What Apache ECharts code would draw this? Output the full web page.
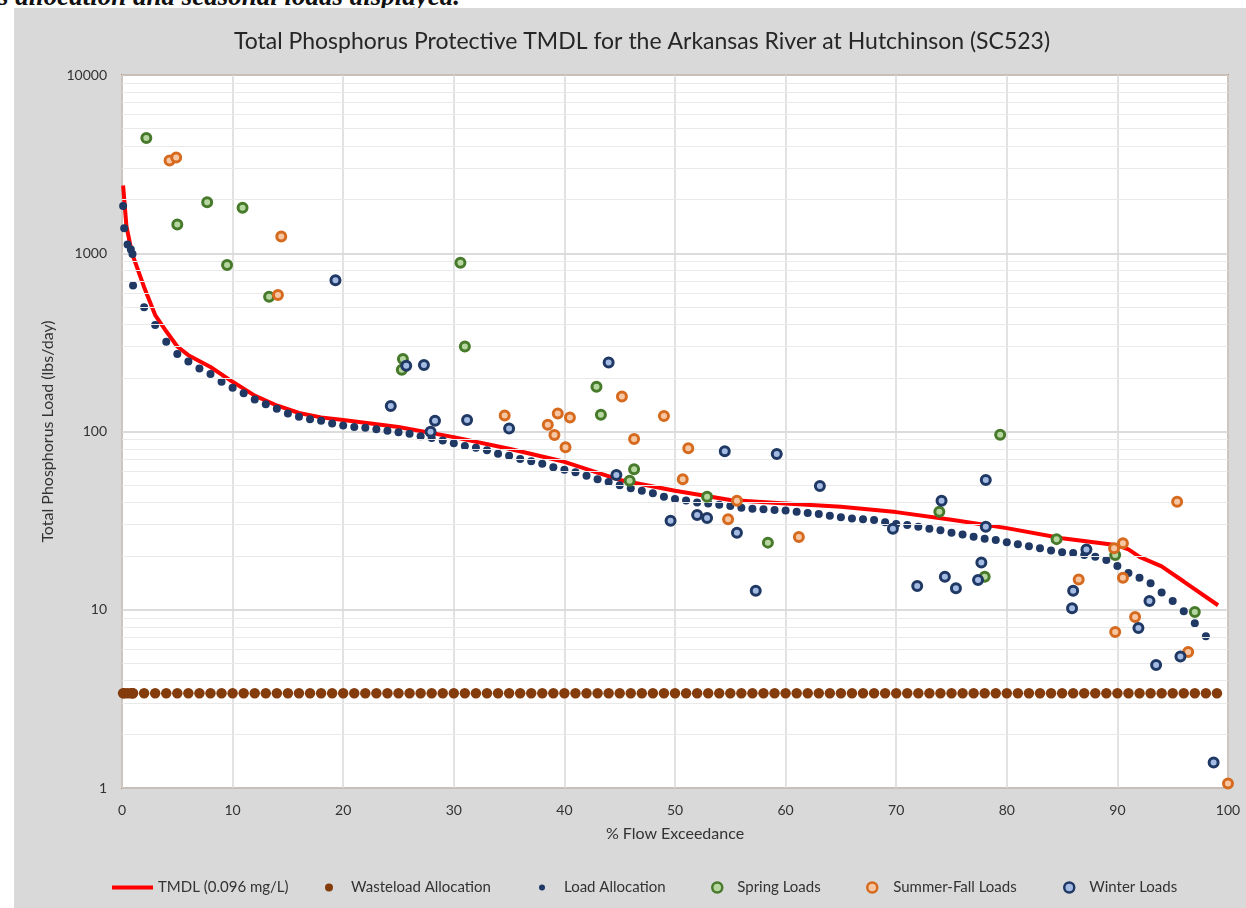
<!DOCTYPE html>
<html>
<head>
<meta charset="utf-8">
<title>Total Phosphorus Protective TMDL</title>
<script src="https://cdn.jsdelivr.net/npm/echarts@6/dist/echarts.min.js"></script>
<style>
  html, body { margin: 0; padding: 0; background: #fff; width: 1246px; height: 908px; overflow: hidden; position: relative; }
  .page-text { position: absolute; left: -2px; top: -17px; font: italic bold 27px/27px "Liberation Serif", serif; color: #111; white-space: nowrap; }
  #chart { position: absolute; left: 14px; top: 8px; width: 1232px; height: 900px; background: #d9d9d9; }
</style>
</head>
<body>
<div class="page-text">s allocation and seasonal loads displayed.</div>
<div id="chart"></div>
<script>
  // TMDL curve (% flow exceedance, lbs/day)
  const tmdlPct = [0.1, 0.4, 0.9, 2, 3, 4, 5, 6, 8, 10, 12, 14, 16, 18, 20, 25, 30, 35, 40, 45,
    50, 55, 60, 65, 70, 75, 80, 85, 90, 91, 92, 94, 96, 99.1]
  const tmdlLoad = [2400, 1420, 1000, 645, 450, 365, 300, 268, 230, 190, 159, 140, 127, 120, 116, 106, 93, 80, 67.6, 53.5,
    46.5, 41.3, 39.5, 37.8, 35.3, 32, 28.7, 25.2, 23, 21.8, 19.8, 17.5, 14.4, 10.6]

  // load allocation points
  const flowPct = [0.1, 0.2, 0.5, 0.8, 0.95, 1.0,
    2, 3, 4, 5, 6, 7, 8, 9, 10, 11, 12, 13, 14, 15, 16, 17, 18, 19, 20,
    21, 22, 23, 24, 25, 26, 27, 28, 29, 30,
    31, 32, 33, 34, 35, 36, 37, 38, 39, 40,
    41, 42, 43, 44, 45, 46, 47, 48, 49, 50,
    51, 52, 53, 54, 55, 56, 57, 58, 59, 60,
    61, 62, 63, 64, 65, 66, 67, 68, 69, 70,
    71, 72, 73, 74, 75, 76, 77, 78, 79, 80,
    81, 82, 83, 84, 85, 86, 87, 88, 89, 90,
    91, 92, 93, 94, 95, 96, 97, 98]
  const loadAlloc = [1840, 1380, 1120, 1050, 990, 660,
    498, 396, 319, 272, 247, 226, 210, 190, 176, 164, 151, 142, 134, 126, 121, 117, 115, 111, 108,
    106, 105, 103, 101, 99, 97, 94, 92, 89, 86,
    83, 81, 78.5, 75, 73, 70, 68, 66, 63, 61,
    59, 56.5, 54, 52, 50, 48, 46.5, 45, 43, 41.8,
    41, 40, 39.5, 38.8, 38.2, 37.4, 36.9, 36.6, 36.3, 36,
    35.5, 34.9, 34.4, 33.7, 33, 32.5, 32.2, 31.9, 31, 30.3,
    29.9, 29.2, 28.5, 27.9, 27, 26.4, 25.7, 25, 24.6, 23.9,
    23.3, 22.7, 22.1, 21.5, 21, 20.8, 20.3, 19.8, 19, 17.6,
    16.1, 15.1, 14.1, 12.5, 11.2, 9.8, 8.4, 7.1]

  // wasteload allocation is flat
  const wasteloadPct = flowPct.concat([99])
  const wasteloadValue = 3.4

  const springLoads = [[2.2, 4430], [7.7, 1930], [10.9, 1800], [5.0, 1450], [9.5, 860], [13.3, 570],
    [30.6, 885], [31.0, 300], [25.4, 255], [25.3, 222], [42.9, 178], [43.3, 124], [46.3, 61.4],
    [45.9, 53], [52.9, 43], [58.4, 23.8], [79.4, 96], [73.9, 35.5], [78.0, 15.3], [84.5, 24.9],
    [89.8, 20.3], [97.0, 9.7]]
  const summerFallLoads = [[4.3, 3310], [4.9, 3440], [14.4, 1240], [14.1, 583], [34.6, 123], [39.4, 126],
    [40.5, 120], [38.5, 109], [39.1, 95.5], [45.2, 157], [49.0, 122], [46.3, 90.8], [40.1, 81.5],
    [51.2, 80.5], [50.7, 54], [55.6, 40.9], [54.8, 32.2], [61.2, 25.6], [89.7, 22.1], [90.5, 23.6],
    [90.5, 15.1], [86.5, 14.8], [91.6, 9.1], [89.8, 7.5], [95.4, 40.4], [96.4, 5.8], [100, 1.06]]
  const winterLoads = [[19.3, 705], [25.7, 234], [27.3, 236], [24.3, 139], [28.3, 115], [27.9, 99.7],
    [31.2, 116], [44.0, 244], [35.0, 104], [44.7, 57], [54.5, 77.4], [59.2, 74.8], [63.1, 49.5],
    [49.6, 31.6], [52.0, 34], [52.9, 32.7], [55.6, 27], [57.3, 12.8], [69.7, 28.5], [74.1, 40.9],
    [78.1, 53.4], [78.1, 29.2], [77.7, 18.4], [77.4, 14.7], [71.9, 13.6], [74.4, 15.3], [75.4, 13.2],
    [87.2, 21.8], [86.0, 12.8], [85.9, 10.2], [92.9, 11.2], [91.9, 7.9], [93.5, 4.9], [95.7, 5.46],
    [98.7, 1.39]]

  // minor log gridlines
  const minorGrid = [2, 3, 4, 5, 6, 7, 8, 9, 20, 30, 40, 50, 60, 70, 80, 90,
    200, 300, 400, 500, 600, 700, 800, 900, 2000, 3000, 4000, 5000, 6000, 7000, 8000, 9000]

  const FONT = 'Lato'
  const TXT = '#333333'

  const chart = echarts.init(document.getElementById('chart'))

  function legendAt (item, left, w, h, padLeft, ring) {
    const lg = {
      data: [item],
      left: left,
      top: 867,
      itemWidth: w,
      itemHeight: h,
      selectedMode: false,
      textStyle: {fontFamily: FONT, fontSize: 15, color: TXT, padding: [0, 0, 0, padLeft]}
    }
    if (ring) lg.itemStyle = {borderWidth: 2.5, borderColor: ring}
    return lg
  }

  const option = {
    animation: false,
    backgroundColor: 'transparent',
    title: {
      text: 'Total Phosphorus Protective TMDL for the Arkansas River at Hutchinson (SC523)',
      left: 623,
      top: 17,
      textAlign: 'center',
      textStyle: {fontFamily: FONT, fontSize: 23, fontWeight: 'normal', color: '#262626'}
    },
    legend: [
      legendAt({name: 'TMDL (0.096 mg/L)', icon: 'rect'}, 93, 41, 4, 0),
      legendAt({name: 'Wasteload Allocation', icon: 'circle'}, 306, 8, 8, 13),
      legendAt({name: 'Load Allocation', icon: 'circle'}, 520, 6, 6, 14),
      legendAt({name: 'Spring Loads', icon: 'circle'}, 692, 10, 10, 10, '#477a2b'),
      legendAt({name: 'Summer-Fall Loads', icon: 'circle'}, 847, 10, 10, 11, '#d66b1f'),
      legendAt({name: 'Winter Loads', icon: 'circle'}, 1044, 10, 10, 10, '#1f3864')
    ],
    grid: {
      left: 108,
      top: 67,
      width: 1106,
      height: 713,
      show: true,
      backgroundColor: '#ffffff',
      borderColor: '#b38d74',
      borderWidth: 2
    },
    xAxis: {
      type: 'value',
      min: 0,
      max: 100,
      interval: 10,
      name: '% Flow Exceedance',
      nameLocation: 'middle',
      nameGap: 38,
      nameTextStyle: {fontFamily: FONT, fontSize: 16, color: TXT},
      axisLine: {show: false},
      axisTick: {show: false},
      axisLabel: {fontFamily: FONT, fontSize: 14, color: TXT, margin: 15},
      splitLine: {show: true, lineStyle: {color: '#d9d9d9', width: 1.5}}
    },
    yAxis: {
      type: 'log',
      logBase: 10,
      min: 1,
      max: 10000,
      name: 'Total Phosphorus Load (lbs/day)',
      nameLocation: 'middle',
      nameRotate: 90,
      nameGap: 66,
      nameTextStyle: {fontFamily: FONT, fontSize: 16, color: TXT},
      axisLine: {show: false},
      axisTick: {show: false},
      axisLabel: {fontFamily: FONT, fontSize: 14, color: TXT, margin: 15, formatter: v => String(v)},
      splitLine: {show: true, lineStyle: {color: '#d0d0d0', width: 1.5}}
    },
    series: [
      {
        name: 'minor-grid',
        type: 'scatter',
        data: [],
        silent: true,
        z: 1,
        markLine: {
          silent: true,
          symbol: ['none', 'none'],
          label: {show: false},
          lineStyle: {color: '#e9e9e9', width: 1, type: 'solid'},
          data: minorGrid.map(v => ({yAxis: v}))
        }
      },
      {
        name: 'TMDL (0.096 mg/L)',
        type: 'line',
        data: tmdlPct.map((x, i) => [x, tmdlLoad[i]]),
        symbol: 'none',
        smooth: false,
        z: 2,
        lineStyle: {color: '#ff0000', width: 4},
        itemStyle: {color: '#ff0000'}
      },
      {
        name: 'Wasteload Allocation',
        type: 'scatter',
        data: wasteloadPct.map(x => [x, wasteloadValue]),
        symbolSize: 10.5,
        z: 3,
        itemStyle: {color: '#843c0c', opacity: 1}
      },
      {
        name: 'Load Allocation',
        type: 'scatter',
        data: flowPct.map((x, i) => [x, loadAlloc[i]]),
        symbolSize: 8,
        z: 4,
        itemStyle: {color: '#1f3864', opacity: 1}
      },
      {
        name: 'Spring Loads',
        type: 'scatter',
        data: springLoads,
        symbolSize: 9,
        z: 5,
        itemStyle: {color: '#b7d7a0', borderColor: '#477a2b', borderWidth: 3, opacity: 1}
      },
      {
        name: 'Summer-Fall Loads',
        type: 'scatter',
        data: summerFallLoads,
        symbolSize: 9,
        z: 6,
        itemStyle: {color: '#f7c6a2', borderColor: '#d66b1f', borderWidth: 3, opacity: 1}
      },
      {
        name: 'Winter Loads',
        type: 'scatter',
        data: winterLoads,
        symbolSize: 9,
        z: 7,
        itemStyle: {color: '#a4bbe4', borderColor: '#1f3864', borderWidth: 3, opacity: 1}
      }
    ]
  }

  chart.setOption(option)
</script>
</body>
</html>
